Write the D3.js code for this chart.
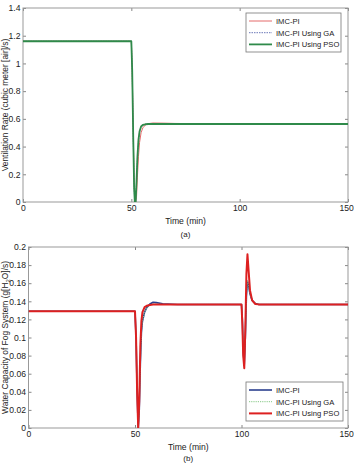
<!DOCTYPE html>
<html><head><meta charset="utf-8">
<script src="https://cdn.jsdelivr.net/npm/d3@7"></script>
<style>body{margin:0;background:#fff}svg{font-family:"Liberation Sans",Arial,sans-serif}</style>
</head><body>
<script>
// ---- Data (a) ventilation rate ----
const timeA   = [0, 50, 50.4, 50.9, 51.3, 51.6, 52.0, 52.4, 52.8, 53.3, 53.8, 54.5, 55.3, 56.5, 58, 60, 65, 70, 80, 100, 150];
const ventPSO = [1.16, 1.16, 0.95, 0.45, 0.10, 0.0, 0.0, 0.15, 0.32, 0.45, 0.51, 0.545, 0.556, 0.561, 0.563, 0.563, 0.563, 0.563, 0.563, 0.563, 0.563];
const ventGA  = [1.16, 1.16, 0.95, 0.45, 0.10, 0.0, 0.0, 0.14, 0.31, 0.44, 0.505, 0.543, 0.555, 0.561, 0.563, 0.564, 0.564, 0.563, 0.563, 0.563, 0.563];
const ventPI  = [1.16, 1.16, 0.95, 0.48, 0.13, 0.01, 0.0, 0.04, 0.18, 0.33, 0.43, 0.50, 0.535, 0.556, 0.566, 0.570, 0.569, 0.567, 0.565, 0.564, 0.564];
// ---- Data (b) water capacity of fog system ----
const timeB  = [0, 50, 50.5, 51.0, 51.5, 52.0, 52.5, 53.0, 53.5, 54.5, 55.5, 57, 58.5, 60, 63, 70, 100, 100.4, 100.8, 101.3, 101.8, 102.3, 102.8, 103.3, 104, 105, 106.5, 108, 110, 150];
const fogPI  = [0.129, 0.129, 0.10, 0.04, 0.0, 0.02, 0.07, 0.105, 0.118, 0.128, 0.133, 0.137, 0.139, 0.1385, 0.1372, 0.1365, 0.1365, 0.12, 0.085, 0.07, 0.10, 0.145, 0.162, 0.158, 0.148, 0.141, 0.1375, 0.1366, 0.1365, 0.1365];
const fogGA  = [0.129, 0.129, 0.10, 0.04, 0.0, 0.02, 0.07, 0.105, 0.118, 0.128, 0.133, 0.136, 0.137, 0.137, 0.1366, 0.1365, 0.1365, 0.12, 0.085, 0.07, 0.10, 0.145, 0.163, 0.158, 0.148, 0.141, 0.1375, 0.1366, 0.1365, 0.1365];
const fogPSO = [0.129, 0.129, 0.10, 0.04, 0.0, 0.03, 0.09, 0.118, 0.128, 0.1335, 0.135, 0.136, 0.1365, 0.1365, 0.1365, 0.1365, 0.1365, 0.115, 0.08, 0.066, 0.11, 0.17, 0.192, 0.175, 0.152, 0.141, 0.137, 0.1366, 0.1365, 0.1365];

const xTicks = [0, 50, 100, 150];
const yTicksA = [0, 0.2, 0.4, 0.6, 0.8, 1, 1.2, 1.4];
const yTicksB = [0, 0.02, 0.04, 0.06, 0.08, 0.1, 0.12, 0.14, 0.16, 0.18, 0.2];

const W = 354, H = 463;
const svg = d3.select("body").append("svg").attr("width", W).attr("height", H);

function panel(cfg) {
  const x = d3.scaleLinear().domain([0, 150]).range([cfg.x0, cfg.x1]);
  const y = d3.scaleLinear().domain(cfg.yDomain).range([cfg.y0, cfg.y1]);
  const g = svg.append("g");
  const fmt = v => String(+v.toFixed(2));
  const tl = 3, tc = "#888", fs = 8.6;
  g.append("g").attr("transform", `translate(0,${cfg.y0})`)
    .call(d3.axisBottom(x).tickValues(xTicks).tickSizeInner(-tl).tickSizeOuter(0).tickPadding(3).tickFormat(d3.format("d")))
    .call(a => { a.select(".domain").remove(); a.selectAll("line").attr("stroke", tc);
      a.selectAll("text").attr("font-size", fs).attr("fill", "#222").attr("font-family", "Liberation Sans, Arial, sans-serif")
        .attr("dx", d => d === 150 ? -1.8 : 0); });
  g.append("g").attr("transform", `translate(0,${cfg.y1})`)
    .call(d3.axisTop(x).tickValues(xTicks).tickSizeInner(-tl).tickSizeOuter(0).tickFormat(""))
    .call(a => { a.select(".domain").remove(); a.selectAll("line").attr("stroke", tc); });
  g.append("g").attr("transform", `translate(${cfg.x0},0)`)
    .call(d3.axisLeft(y).tickValues(cfg.yTicks).tickSizeInner(-tl).tickSizeOuter(0).tickPadding(2.5).tickFormat(fmt))
    .call(a => { a.select(".domain").remove(); a.selectAll("line").attr("stroke", tc);
      a.selectAll("text").attr("font-size", fs).attr("fill", "#222").attr("font-family", "Liberation Sans, Arial, sans-serif"); });
  g.append("g").attr("transform", `translate(${cfg.x1},0)`)
    .call(d3.axisRight(y).tickValues(cfg.yTicks).tickSizeInner(-tl).tickSizeOuter(0).tickFormat(""))
    .call(a => { a.select(".domain").remove(); a.selectAll("line").attr("stroke", tc); });
  g.append("rect").attr("x", cfg.x0).attr("y", cfg.y1).attr("width", cfg.x1 - cfg.x0).attr("height", cfg.y0 - cfg.y1)
    .attr("fill", "none").attr("stroke", "#999").attr("stroke-width", 1);

  const clipId = "clip" + cfg.id;
  svg.append("clipPath").attr("id", clipId).append("rect")
    .attr("x", cfg.x0).attr("y", cfg.y1 - 2).attr("width", cfg.x1 - cfg.x0).attr("height", cfg.y0 - cfg.y1 + 2);
  const line = d3.line().x(d => x(d[0])).y(d => y(d[1]));
  const lg = g.append("g").attr("clip-path", `url(#${clipId})`);
  cfg.series.forEach(s => {
    lg.append("path").datum(cfg.time.map((t, i) => [t, s.values[i]]))
      .attr("d", line).attr("fill", "none").attr("stroke", s.color).attr("stroke-width", s.width)
      .attr("stroke-dasharray", s.dash || null).attr("stroke-linejoin", "round");
  });
  g.append("text").attr("x", (cfg.x0 + cfg.x1) / 2).attr("y", cfg.y0 + 22).attr("text-anchor", "middle")
    .attr("font-size", 8.6).attr("fill", "#222").text("Time (min)");
  g.append("text").attr("x", (cfg.x0 + cfg.x1) / 2).attr("y", cfg.tagY).attr("text-anchor", "middle")
    .attr("font-size", 8).attr("fill", "#222").text(cfg.tag);
  const yl = g.append("text").attr("transform", `translate(${cfg.ylx},${(cfg.y0 + cfg.y1) / 2}) rotate(-90)`)
    .attr("text-anchor", "middle").attr("font-size", 8.4).attr("fill", "#222");
  cfg.ylabel(yl);
  const L = cfg.legend;
  g.append("rect").attr("x", L.x).attr("y", L.y).attr("width", L.w).attr("height", L.h)
    .attr("fill", "#fff").attr("stroke", "#777").attr("stroke-width", 0.8);
  L.order.forEach((s, i) => {
    const yy = L.y + 8 + i * 11.7;
    g.append("line").attr("x1", L.x + 3).attr("x2", L.x + 26).attr("y1", yy).attr("y2", yy)
      .attr("stroke", s.color).attr("stroke-width", s.width).attr("stroke-dasharray", s.dash || null);
    g.append("text").attr("x", L.x + 30).attr("y", yy + 3).attr("font-size", 7.6).attr("fill", "#222").text(s.name);
  });
}

const sA = {
  PI:  {name: "IMC-PI", values: ventPI, color: "#e46a6a", width: 1},
  GA:  {name: "IMC-PI Using GA", values: ventGA, color: "#6a78b8", width: 1, dash: "1.5,1"},
  PSO: {name: "IMC-PI Using PSO", values: ventPSO, color: "#2f8a4a", width: 1.8}
};
panel({
  id: "a", x0: 23, x1: 348, y0: 202, y1: 8, yDomain: [0, 1.4], yTicks: yTicksA, time: timeA,
  series: [sA.PI, sA.GA, sA.PSO], tag: "(a)", tagY: 236.5, ylx: 7.5,
  ylabel: t => t.text("Ventilation Rate (cubic meter [air]/s)"),
  legend: {x: 246, y: 13, w: 95, h: 39, order: [sA.PI, sA.GA, sA.PSO]}
});

const sB = {
  PI:  {name: "IMC-PI", values: fogPI, color: "#2b3f8f", width: 1.6},
  GA:  {name: "IMC-PI Using GA", values: fogGA, color: "#86c886", width: 1, dash: "1.2,1"},
  PSO: {name: "IMC-PI Using PSO", values: fogPSO, color: "#dd2020", width: 2}
};
panel({
  id: "b", x0: 28.5, x1: 348, y0: 428, y1: 247, yDomain: [0, 0.2], yTicks: yTicksB, time: timeB,
  series: [sB.PI, sB.GA, sB.PSO], tag: "(b)", tagY: 461, ylx: 7.5,
  ylabel: t => { t.append("tspan").text("Water Capacity of Fog System (g[H");
    t.append("tspan").attr("font-size", 6).attr("dy", 2).text("2");
    t.append("tspan").attr("dy", -2).text("O]/s)"); },
  legend: {x: 246, y: 382, w: 97, h: 39, order: [sB.PI, sB.GA, sB.PSO]}
});
</script>
</body></html>
